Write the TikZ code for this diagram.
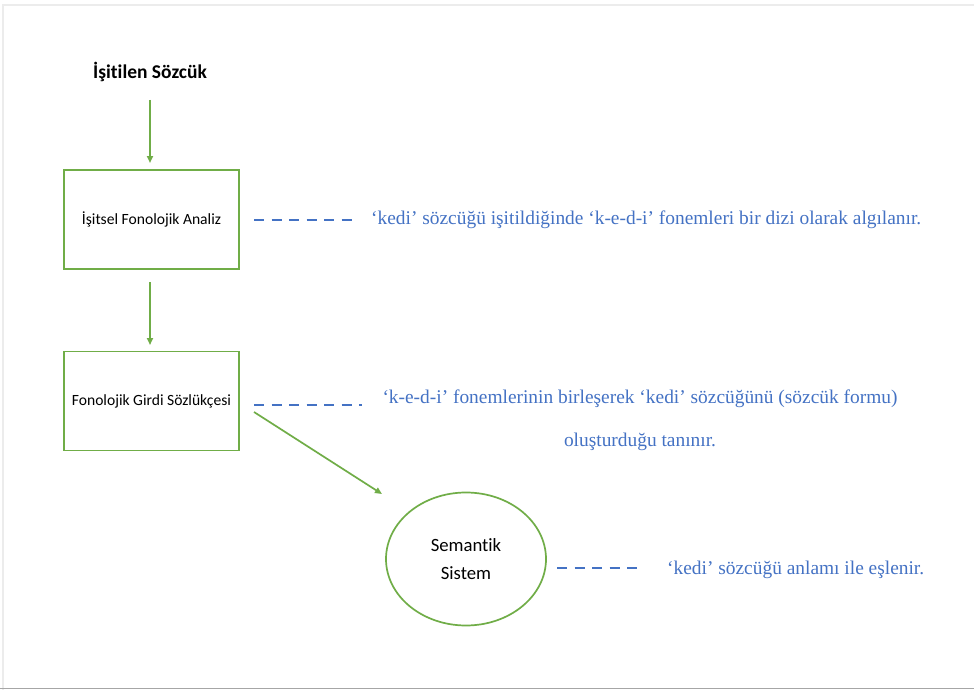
\documentclass[tikz,border=0pt]{standalone}
\usepackage{fontspec}
\setmainfont{Liberation Serif}
\newfontfamily\calib[Ligatures=NoCommon]{Carlito}
\usetikzlibrary{shapes.geometric,arrows.meta}
\definecolor{ogreen}{HTML}{70AD47}
\definecolor{oblue}{HTML}{4472C4}
\tikzset{
  box/.style={draw=ogreen, line width=1.7pt, minimum width=175pt, minimum height=99pt, font=\calib\fontsize{15.6}{18}\selectfont, inner sep=0pt},
  flow/.style={draw=ogreen, line width=1.7pt, -{Triangle[length=7pt,width=6pt]}},
  link/.style={draw=oblue, line width=2.2pt, dash pattern=on 10pt off 7.5pt},
  note/.style={text=oblue, font=\fontsize{19.4}{43}\selectfont, inner sep=0pt, align=center},
}
\begin{document}
\begin{tikzpicture}[x=1pt,y=-1pt]
\useasboundingbox (0,0) rectangle (974,690);
\fill[white] (0,0) rectangle (974,690);
\draw[gray!15, line width=2pt] (3,690) -- (3,5) -- (974,5);
\draw[gray!70, line width=1.5pt] (0,688.5) -- (974,688.5);
\node[font=\calib\bfseries\fontsize{19.5}{22}\selectfont, inner sep=0pt] (src) at (150,72) {İşitilen Sözcük};
\node[box] (a) at (151.5,219.5) {İşitsel Fonolojik Analiz};
\node[box] (b) at (151.5,401) {Fonolojik Girdi Sözlükçesi};
\node[ellipse, draw=ogreen, line width=1.7pt, minimum width=160pt, minimum height=133pt, font=\calib\fontsize{18.7}{28}\selectfont, align=center, inner sep=0pt] (c) at (466,559) {Semantik\\Sistem};
\coordinate (s1) at (150,100);
\coordinate (e1) at (150,163);
\coordinate (s2) at (150,282);
\coordinate (e2) at (150,345);
\coordinate (s3) at (254,412);
\coordinate (e3) at (382,494);
\draw[flow] (s1) -- (e1);
\draw[flow] (s2) -- (e2);
\draw[flow] (s3) -- (e3);
\coordinate (d1a) at (254,220); \coordinate (d1b) at (358,220);
\coordinate (d2a) at (254,405); \coordinate (d2b) at (362,405);
\coordinate (d3a) at (557,568); \coordinate (d3b) at (643,568);
\draw[link] (d1a) -- (d1b);
\draw[link] (d2a) -- (d2b);
\draw[link] (d3a) -- (d3b);
\node[note, anchor=west] (t1) at (371,220) {‘kedi’ sözcüğü işitildiğinde ‘k-e-d-i’ fonemleri bir dizi olarak algılanır.};
\node[note] (t2) at (640,420) {‘k-e-d-i’ fonemlerinin birleşerek ‘kedi’ sözcüğünü (sözcük formu)\\oluşturduğu tanınır.};
\node[note, anchor=west] (t3) at (667,570) {‘kedi’ sözcüğü anlamı ile eşlenir.};
\end{tikzpicture}
\end{document}
